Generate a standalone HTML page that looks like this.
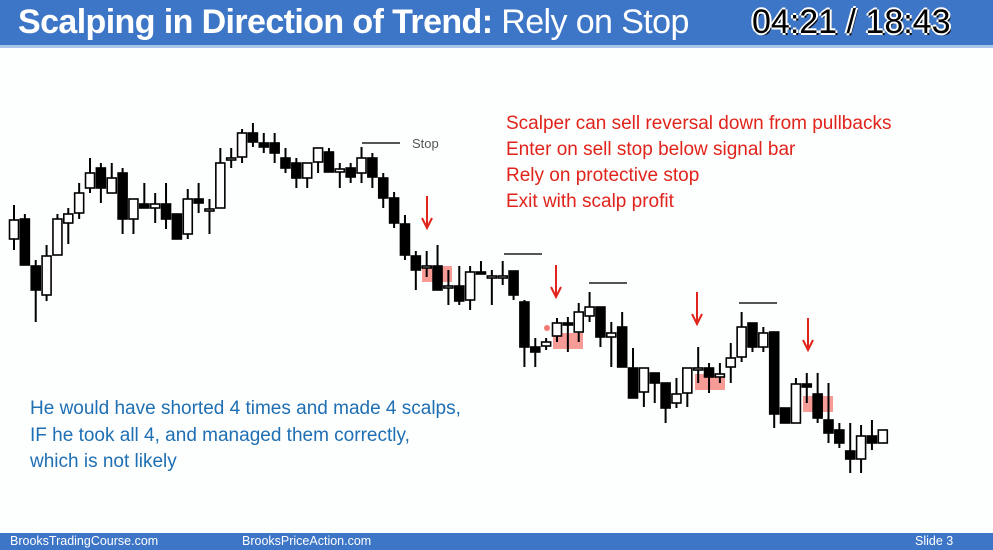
<!DOCTYPE html>
<html><head><meta charset="utf-8"><style>
body{margin:0;width:993px;height:550px;overflow:hidden;background:#fdfefe;font-family:"Liberation Sans",sans-serif;position:relative}
#hdr{position:absolute;left:0;top:0;width:993px;height:48px;background:#3d76c6;border-bottom:3px solid #a9c6ea;box-sizing:border-box}
#title{position:absolute;left:18px;top:3px;color:#fff;font-size:34px;letter-spacing:-0.6px}
#time{position:absolute;left:752px;top:3px;color:#000;font-size:34px;text-shadow:-2px 0 #fff,2px 0 #fff,0 -2px #fff,0 2px #fff,2px 2px #000}
#ftr{position:absolute;left:0;top:533px;width:993px;height:17px;background:#3d76c6;color:#fff;font-size:12.5px}
.rt{position:absolute;color:#e0241b;font-size:19px;left:506px}
.bt{position:absolute;color:#1e6fb3;font-size:19px;left:30px}
</style></head><body>
<div id="hdr">
<div id="title"><b>Scalping in Direction of Trend:</b> Rely on Stop</div>
<div id="time">04:21 / 18:43</div>
</div>
<div class="rt" style="top:113px">Scalper can sell reversal down from pullbacks</div>
<div class="rt" style="top:139px">Enter on sell stop below signal bar</div>
<div class="rt" style="top:165px">Rely on protective stop</div>
<div class="rt" style="top:191px">Exit with scalp profit</div>
<div class="bt" style="top:398px">He would have shorted 4 times and made 4 scalps,</div>
<div class="bt" style="top:425px">IF he took all 4, and managed them correctly,</div>
<div class="bt" style="top:451px">which is not likely</div>
<svg id="chart" width="993" height="550" style="position:absolute;left:0;top:0">
<g id="overlay"></g><g id="candles"></g>
<text x="412" y="148" font-size="13" fill="#555" font-family="Liberation Sans">Stop</text>
</svg>
<div id="ftr">
<span style="position:absolute;left:10px;top:1px">BrooksTradingCourse.com</span>
<span style="position:absolute;left:242px;top:1px">BrooksPriceAction.com</span>
<span style="position:absolute;left:915px;top:1px">Slide 3</span>
</div>
<script>
// price values (price = 500 - pixel row in original slide)
const opens =[261,281,234,205,245,277,287,312,332,307,327,281,296,292,296,286,266,301,291,292,342,343,367,357,357,342,337,322,338,348,328,332,327,342,322,302,276,244,234,234,214,214,200,228,224,224,229,198,153,154,164,177,168,184,193,163,173,132,108,127,117,97,107,132,132,123,133,143,177,153,168,92,77,116,106,80,70,49,41,64,57];
const closes=[280,235,210,244,281,286,307,327,312,322,281,301,292,296,281,261,301,297,291,337,342,367,358,353,347,332,322,337,352,328,331,323,342,323,302,277,245,230,234,210,214,199,228,226,224,224,205,153,148,158,177,175,188,193,163,167,133,102,132,117,92,106,132,132,123,126,142,173,153,167,86,77,116,113,82,67,57,41,64,57,70];
const highs =[295,286,240,255,286,292,317,342,337,337,332,301,317,307,317,286,311,317,301,352,352,371,377,367,367,352,342,337,352,352,337,337,353,347,327,308,285,249,249,255,230,234,234,239,230,239,229,200,162,162,182,183,197,208,193,178,188,152,132,127,117,122,132,153,137,137,157,188,177,173,168,92,122,127,127,117,77,77,75,80,70];
const lows  =[250,235,178,199,245,256,281,307,297,307,266,266,292,277,271,261,261,287,266,292,332,337,353,347,337,327,312,312,327,328,312,317,317,312,292,272,240,210,223,210,195,195,190,226,195,215,200,133,133,150,158,148,158,178,153,133,133,102,93,97,77,92,93,117,107,117,117,138,148,148,72,77,77,97,77,57,52,27,27,50,57];
const x0=14, dx=10.86, bw=9;
function X(i){return x0+i*dx;}
function Y(p){return 500-p;}
const ns="http://www.w3.org/2000/svg";
const cg=document.getElementById('candles');
function mk(tag,a,parent){const e=document.createElementNS(ns,tag);for(const k in a)e.setAttribute(k,a[k]);parent.appendChild(e);return e;}
for(let i=0;i<opens.length;i++){
  const x=X(i),o=opens[i],c=closes[i];
  const w=mk('line',{x1:x,x2:x,y1:Y(highs[i]),y2:Y(lows[i]),stroke:'#000','stroke-width':2},cg);
  
  
  const top=Y(Math.max(o,c)),h=Math.max(Math.abs(o-c),2);
  const r=mk('rect',{x:x-bw/2,y:top,width:bw,height:h,fill:c<o?'#000':'#fff',stroke:'#000','stroke-width':1.6},cg);
  
  
}
const og=document.getElementById('overlay');
const pinks=[[422,266],[553,333],[695,374],[803,396]];
pinks.forEach(p=>{const r=mk('rect',{x:p[0],y:p[1],width:30,height:16,fill:'#f47a74','fill-opacity':0.75},og);

});
const arrows=[[427,196],[556,265],[697,292],[808,318]];
arrows.forEach(a=>{const g=mk('g',{stroke:'#e0241b','stroke-width':2,fill:'none'},og);


mk('line',{x1:a[0],x2:a[0],y1:a[1],y2:a[1]+32},g);
mk('polyline',{points:(a[0]-5)+','+(a[1]+22)+' '+a[0]+','+(a[1]+32)+' '+(a[0]+5)+','+(a[1]+22)},g);});
const stops=[[362,143],[504,254],[589,283],[739,303]];
stops.forEach(s=>{const l=mk('line',{x1:s[0],x2:s[0]+38,y1:s[1],y2:s[1],stroke:'#555','stroke-width':2},og);

});
const d=mk('circle',{cx:547,cy:328,r:3,fill:'#f47a74'},og);


</script>
</body></html>
